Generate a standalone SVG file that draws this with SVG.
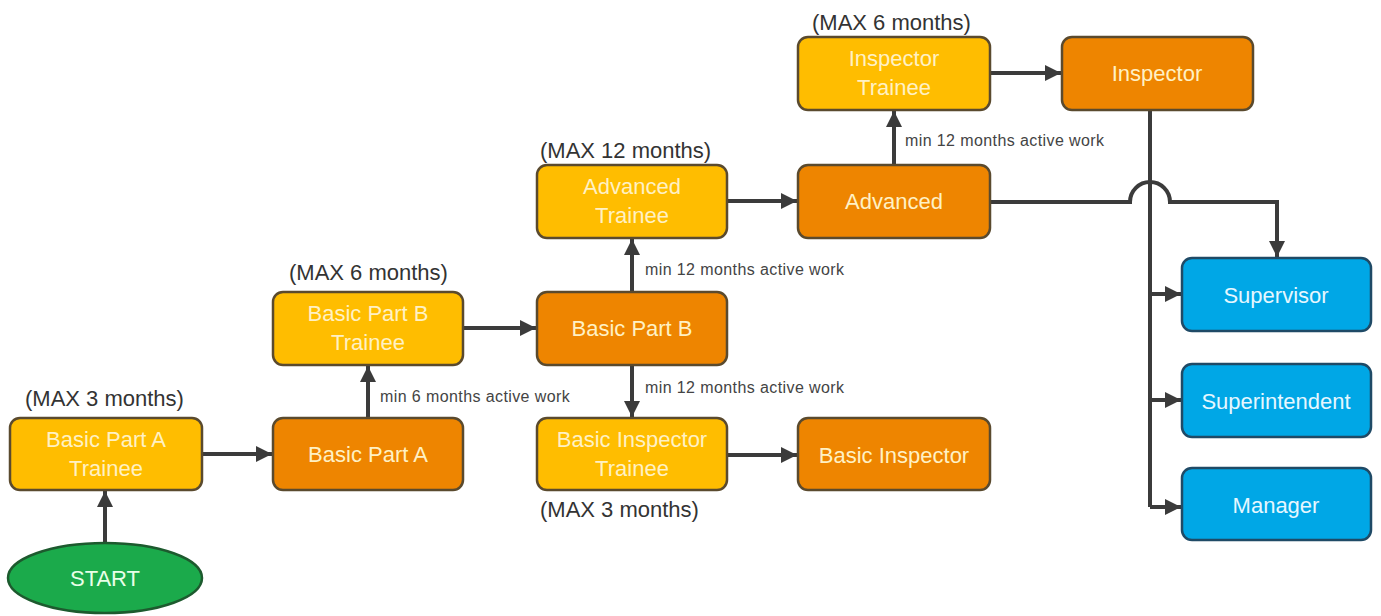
<svg xmlns="http://www.w3.org/2000/svg" width="1381" height="616" viewBox="0 0 1381 616">
<defs>
<marker id="arr" viewBox="0 0 10 10" refX="10" refY="5" markerWidth="17" markerHeight="16" markerUnits="userSpaceOnUse" orient="auto">
<path d="M0,0 L10,5 L0,10 z" fill="#3b3b3b"/>
</marker>
<style>
.box{stroke:#5a4a2e;stroke-width:2.5}
.y{fill:#FFBD00}
.o{fill:#EE8500}
.b{fill:#00A7E6;stroke:#1f4a66}
.g{fill:#1BAA4B;stroke:#1d5a2e;stroke-width:2.5}
.t{font-family:"Liberation Sans",Arial,sans-serif;font-size:22px;fill:#FFF1C4;text-anchor:middle}
.tb{font-family:"Liberation Sans",Arial,sans-serif;font-size:22px;fill:#E6F7FF;text-anchor:middle}
.max{font-family:"Liberation Sans",Arial,sans-serif;font-size:22px;fill:#333;text-anchor:start}
.min{font-family:"Liberation Sans",Arial,sans-serif;font-size:16px;letter-spacing:0.4px;fill:#444}
.c{fill:none;stroke:#3b3b3b;stroke-width:4}
</style>
</defs>
<rect width="1381" height="616" fill="#fff"/>
<g id="connectors">
<path class="c" d="M105,543 V491" marker-end="url(#arr)"/>
<path class="c" d="M202,454 H272" marker-end="url(#arr)"/>
<path class="c" d="M368,417 V366" marker-end="url(#arr)"/>
<path class="c" d="M463,328 H536" marker-end="url(#arr)"/>
<path class="c" d="M632,292 V239" marker-end="url(#arr)"/>
<path class="c" d="M632,365 V417" marker-end="url(#arr)"/>
<path class="c" d="M727,455 H797" marker-end="url(#arr)"/>
<path class="c" d="M727,201 H797" marker-end="url(#arr)"/>
<path class="c" d="M894,165 V111" marker-end="url(#arr)"/>
<path class="c" d="M990,73 H1061" marker-end="url(#arr)"/>
<path class="c" d="M990,202 H1130 A20,20 0 0 1 1170,202 H1277 V257" marker-end="url(#arr)"/>
<path class="c" d="M1150,111 V507"/>
<path class="c" d="M1150,294 H1181" marker-end="url(#arr)"/>
<path class="c" d="M1150,400 H1181" marker-end="url(#arr)"/>
<path class="c" d="M1150,507 H1181" marker-end="url(#arr)"/>
<text class="min" x="380" y="402">min 6 months active work</text>
<text class="min" x="645" y="275">min 12 months active work</text>
<text class="min" x="645" y="393">min 12 months active work</text>
<text class="min" x="905" y="146">min 12 months active work</text>
</g>
<g id="start">
<ellipse class="g" cx="105" cy="578" rx="97" ry="35"/>
<text class="t" x="105" y="586" style="fill:#E8FFE8">START</text>
</g>
<g id="basic-a-trainee">
<text class="max" x="25" y="406">(MAX 3 months)</text>
<rect class="box y" x="10" y="418" width="192" height="72" rx="10"/>
<text class="t" x="106" y="447">Basic Part A</text>
<text class="t" x="106" y="476">Trainee</text>
</g>
<g id="basic-a">
<rect class="box o" x="273" y="418" width="190" height="72" rx="10"/>
<text class="t" x="368" y="462">Basic Part A</text>
</g>
<g id="basic-b-trainee">
<text class="max" x="289" y="280">(MAX 6 months)</text>
<rect class="box y" x="273" y="292" width="190" height="73" rx="10"/>
<text class="t" x="368" y="321">Basic Part B</text>
<text class="t" x="368" y="350">Trainee</text>
</g>
<g id="basic-b">
<rect class="box o" x="537" y="292" width="190" height="73" rx="10"/>
<text class="t" x="632" y="336">Basic Part B</text>
</g>
<g id="advanced-trainee">
<text class="max" x="540" y="158">(MAX 12 months)</text>
<rect class="box y" x="537" y="165" width="190" height="73" rx="10"/>
<text class="t" x="632" y="194">Advanced</text>
<text class="t" x="632" y="223">Trainee</text>
</g>
<g id="advanced">
<rect class="box o" x="798" y="165" width="192" height="73" rx="10"/>
<text class="t" x="894" y="209">Advanced</text>
</g>
<g id="inspector-trainee">
<text class="max" x="812" y="30">(MAX 6 months)</text>
<rect class="box y" x="798" y="37" width="192" height="73" rx="10"/>
<text class="t" x="894" y="66">Inspector</text>
<text class="t" x="894" y="95">Trainee</text>
</g>
<g id="inspector">
<rect class="box o" x="1062" y="37" width="191" height="73" rx="10"/>
<text class="t" x="1157" y="81">Inspector</text>
</g>
<g id="basic-inspector-trainee">
<rect class="box y" x="537" y="418" width="190" height="72" rx="10"/>
<text class="t" x="632" y="447">Basic Inspector</text>
<text class="t" x="632" y="476">Trainee</text>
<text class="max" x="540" y="517">(MAX 3 months)</text>
</g>
<g id="basic-inspector">
<rect class="box o" x="798" y="418" width="192" height="72" rx="10"/>
<text class="t" x="894" y="463">Basic Inspector</text>
</g>
<g id="supervisor">
<rect class="box b" x="1182" y="258" width="189" height="73" rx="10"/>
<text class="tb" x="1276" y="303">Supervisor</text>
</g>
<g id="superintendent">
<rect class="box b" x="1182" y="364" width="189" height="73" rx="10"/>
<text class="tb" x="1276" y="409">Superintendent</text>
</g>
<g id="manager">
<rect class="box b" x="1182" y="468" width="189" height="72" rx="10"/>
<text class="tb" x="1276" y="513">Manager</text>
</g>
</svg>
